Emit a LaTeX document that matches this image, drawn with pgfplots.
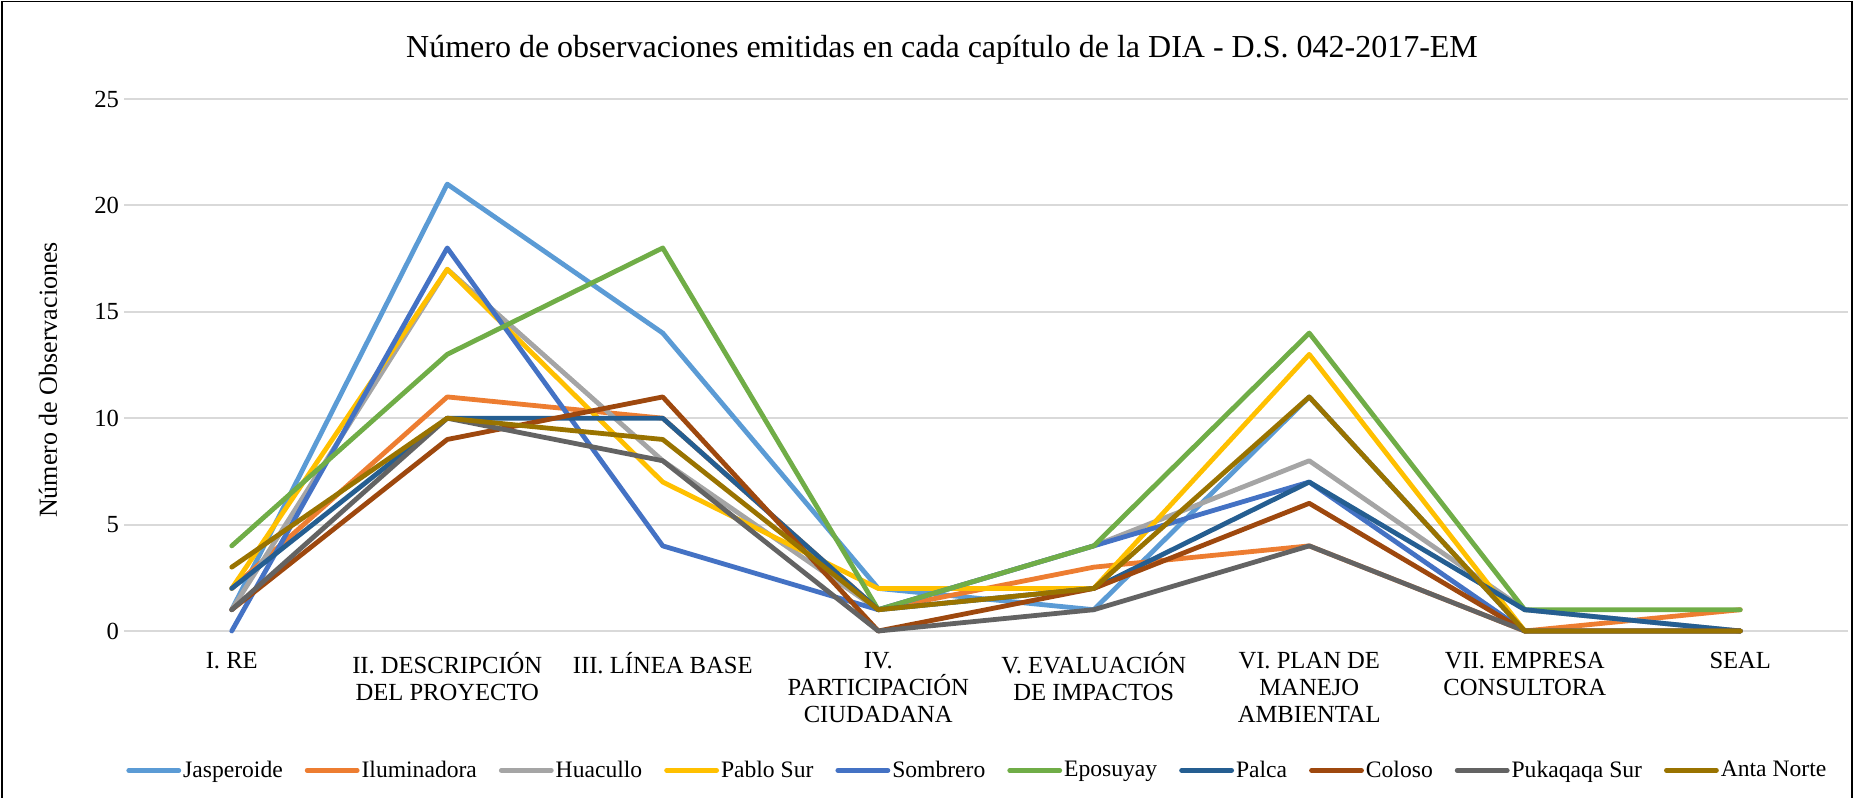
\documentclass[border=0pt]{standalone}
\usepackage{fontspec}
\setmainfont{Liberation Serif}
\usepackage{pgfplots}
\pgfplotsset{compat=1.18}
\definecolor{cJas}{HTML}{5B9BD5}
\definecolor{cIlu}{HTML}{ED7D31}
\definecolor{cHua}{HTML}{A5A5A5}
\definecolor{cPab}{HTML}{FFC000}
\definecolor{cSom}{HTML}{4472C4}
\definecolor{cEpo}{HTML}{70AD47}
\definecolor{cPal}{HTML}{255E91}
\definecolor{cCol}{HTML}{9E480E}
\definecolor{cPuk}{HTML}{636363}
\definecolor{cAnt}{HTML}{997300}
\begin{document}
\begin{tikzpicture}[x=1pt,y=1pt]
\useasboundingbox (0,0) rectangle (927,399);
\draw[black, line width=0.8pt] (1,0) -- (1,398.2) -- (926,398.2) -- (926,0);
\node[font=\fontsize{16}{18}\selectfont] at (471,374) {Número de observaciones emitidas en cada capítulo de la DIA - D.S. 042-2017-EM};
\node[rotate=90, font=\fontsize{13}{15}\selectfont] at (24,209) {Número de Observaciones};
\begin{axis}[
  at={(62pt,83.5pt)}, anchor=south west, scale only axis,
  width=862pt, height=266pt,
  xmin=-0.5, xmax=7.5, ymin=0, ymax=25,
  ytick={0,5,...,25}, xtick={0,...,7},
  xticklabels={{I. RE},{II. DESCRIPCIÓN\\DEL PROYECTO},{III. LÍNEA BASE},{IV.\\PARTICIPACIÓN\\CIUDADANA},{V. EVALUACIÓN\\DE IMPACTOS},{VI. PLAN DE\\MANEJO\\AMBIENTAL},{VII. EMPRESA\\CONSULTORA},{SEAL}},
  xticklabel style={align=center, anchor=north, font=\fontsize{12.3}{13.6}\selectfont, yshift=-7pt},
  yticklabel style={font=\fontsize{12.3}{14}\selectfont, xshift=1pt},
  /pgf/number format/assume math mode=true,
  ymajorgrids, grid style={line width=1pt, color=black!15},
  axis line style={draw=none}, major tick length=0pt,
  clip=false,
  every axis plot/.append style={line width=2.4pt, line cap=round, line join=round, mark=none},
  legend columns=10,
  legend style={draw=none, fill=none, at={(0.495,-0.262)}, anchor=center, font=\fontsize{11.8}{14}\selectfont,
    nodes={inner sep=1pt},
    /tikz/every even column/.append style={column sep=10pt}, inner sep=0pt},
  legend image code/.code={\draw[#1, line cap=round] (0pt,0pt) -- (25pt,0pt);},
]
\addplot[cJas] coordinates {(0,1)(1,21)(2,14)(3,2)(4,1)(5,11)(6,0)(7,0)};
\addlegendentry{Jasperoide}
\addplot[cIlu] coordinates {(0,2)(1,11)(2,10)(3,1)(4,3)(5,4)(6,0)(7,1)};
\addlegendentry{Iluminadora}
\addplot[cHua] coordinates {(0,1)(1,17)(2,8)(3,1)(4,4)(5,8)(6,1)(7,0)};
\addlegendentry{Huacullo}
\addplot[cPab] coordinates {(0,2)(1,17)(2,7)(3,2)(4,2)(5,13)(6,0)(7,0)};
\addlegendentry{Pablo Sur}
\addplot[cSom] coordinates {(0,0)(1,18)(2,4)(3,1)(4,4)(5,7)(6,0)(7,0)};
\addlegendentry{Sombrero}
\addplot[cEpo] coordinates {(0,4)(1,13)(2,18)(3,1)(4,4)(5,14)(6,1)(7,1)};
\addlegendentry{Eposuyay}
\addplot[cPal] coordinates {(0,2)(1,10)(2,10)(3,1)(4,2)(5,7)(6,1)(7,0)};
\addlegendentry{Palca}
\addplot[cCol] coordinates {(0,1)(1,9)(2,11)(3,0)(4,2)(5,6)(6,0)(7,0)};
\addlegendentry{Coloso}
\addplot[cPuk] coordinates {(0,1)(1,10)(2,8)(3,0)(4,1)(5,4)(6,0)(7,0)};
\addlegendentry{Pukaqaqa Sur}
\addplot[cAnt] coordinates {(0,3)(1,10)(2,9)(3,1)(4,2)(5,11)(6,0)(7,0)};
\addlegendentry{Anta Norte}
\end{axis}
\end{tikzpicture}
\end{document}
